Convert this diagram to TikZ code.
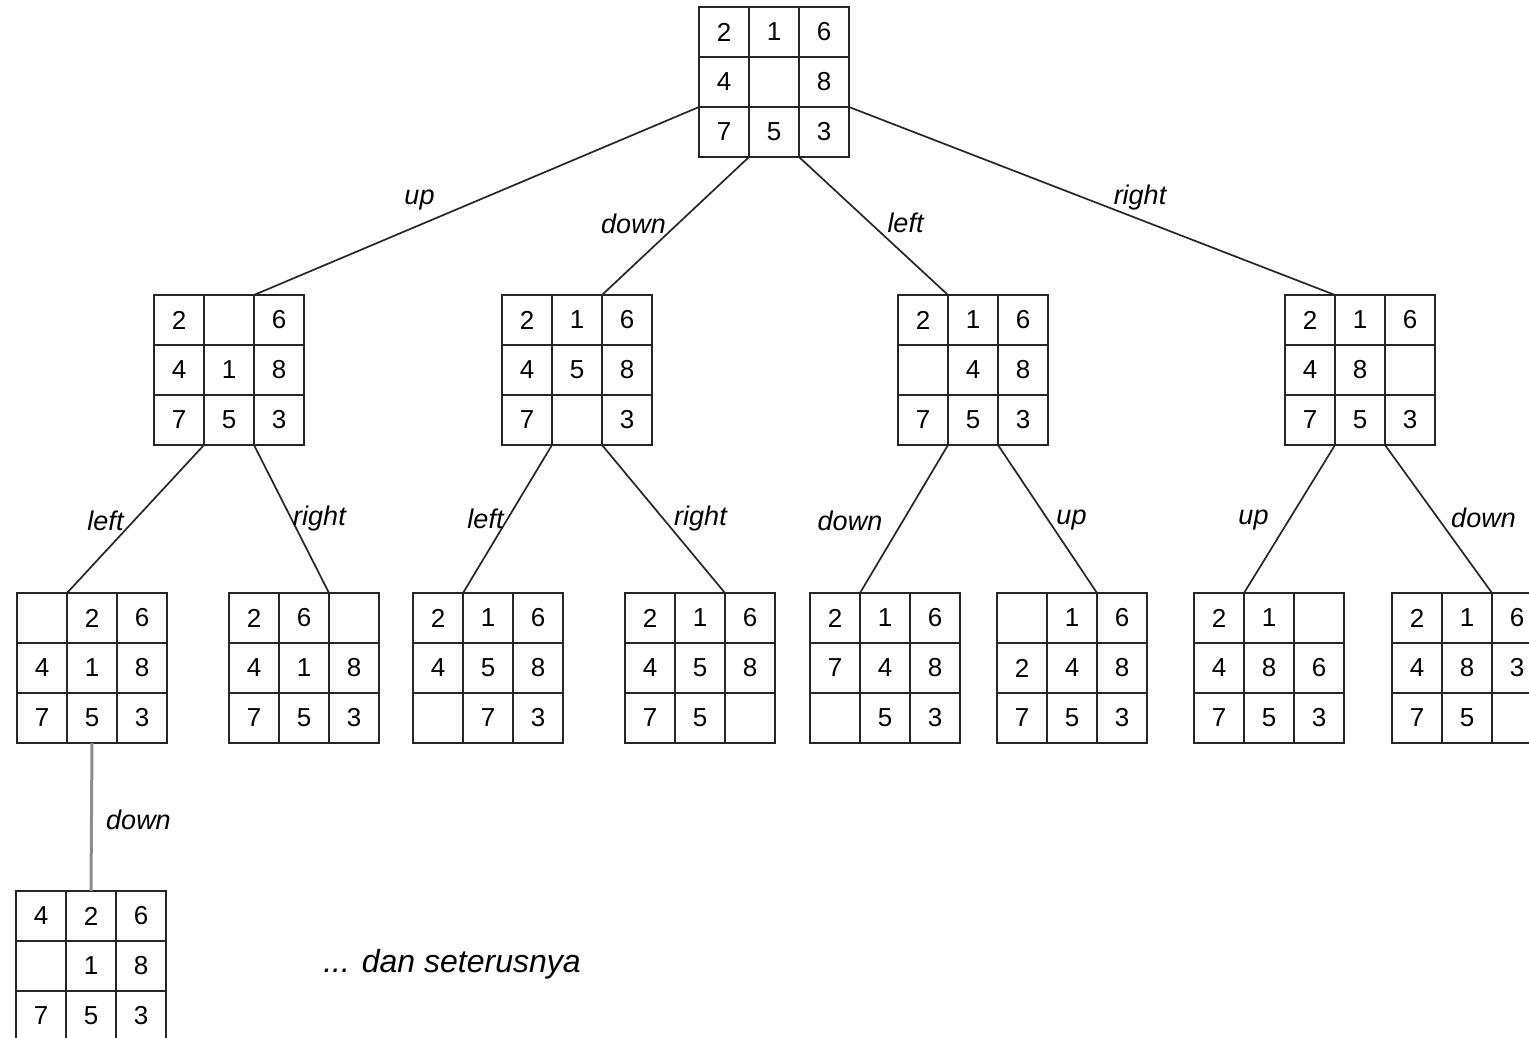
\documentclass[tikz,border=0pt]{standalone}
\usepackage{fontspec}
\setmainfont{Liberation Sans}
\usetikzlibrary{calc}

% one 3x3 board of the puzzle: name, centre, the nine entries row by row
\newcommand{\board}[3]{%
  \foreach \v [count=\bidx from 0] in {#3} {
    \pgfmathtruncatemacro{\brow}{\bidx/3}
    \pgfmathtruncatemacro{\bcol}{\bidx-3*\brow}
    \pgfmathtruncatemacro{\bnum}{\bidx+1}
    \node[cell] (#1-\bnum) at ($(#2)+(\bcol*50-50,\brow*50-50)$) {\v};
  }
}

\begin{document}
\begin{tikzpicture}[x=1pt, y=-1pt]
    % Define styles for boards and edges
    \tikzstyle{cell} = [rectangle, draw=black!85, line width=2.2pt, minimum size=50pt, inner sep=0pt, outer sep=0pt, font=\fontsize{26}{29}\selectfont]
    \tikzstyle{edge} = [draw=black!85, line width=1.7pt]
    \tikzstyle{lastedge} = [draw=black!45, line width=3pt]
    \tikzstyle{lbl} = [font=\fontsize{27}{30}\selectfont\itshape, inner sep=0pt]

    \useasboundingbox (0,0) rectangle (1529,1038);
    \clip (0,0) rectangle (1529,1038);

    % Boards
    \board{root}{774,82}{2,1,6,4,{},8,7,5,3}

    \board{up}{229,370}{2,{},6,4,1,8,7,5,3}
    \board{down}{577,370}{2,1,6,4,5,8,7,{},3}
    \board{left}{973,370}{2,1,6,{},4,8,7,5,3}
    \board{right}{1360,370}{2,1,6,4,8,{},7,5,3}

    \board{ul}{92,668}{{},2,6,4,1,8,7,5,3}
    \board{ur}{304,668}{2,6,{},4,1,8,7,5,3}
    \board{dl}{488,668}{2,1,6,4,5,8,{},7,3}
    \board{dr}{700,668}{2,1,6,4,5,8,7,5,{}}
    \board{ld}{885,668}{2,1,6,7,4,8,{},5,3}
    \board{lu}{1072,668}{{},1,6,2,4,8,7,5,3}
    \board{ru}{1269,668}{2,1,{},4,8,6,7,5,3}
    \board{rd}{1467,668}{2,1,6,4,8,3,7,5,{}}

    \board{uld}{91,966}{4,2,6,{},1,8,7,5,3}

    \node (more) [font=\fontsize{32}{35}\selectfont\itshape] at (452,964) {... dan seterusnya};

    % Edges
    \draw [edge] (root-7.north west) -- (up-3.north west) node[lbl, midway, xshift=-57pt, yshift=1pt] {up};
    \draw [edge] (root-8.south west) -- (down-3.north west) node[lbl, midway, xshift=-42pt, yshift=2pt] {down};
    \draw [edge] (root-8.south east) -- (left-2.north west) node[lbl, midway, xshift=32pt, yshift=3pt] {left};
    \draw [edge] (root-9.north east) -- (right-2.north west) node[lbl, midway, xshift=48pt, yshift=3pt] {right};

    \draw [edge] (up-8.south west) -- (ul-2.north west) node[lbl, midway, xshift=-30pt, yshift=-2pt] {left};
    \draw [edge] (up-9.south west) -- (ur-3.north west) node[lbl, midway, xshift=28pt, yshift=0pt] {right};
    \draw [edge] (down-8.south west) -- (dl-2.north west) node[lbl, midway, xshift=-22pt, yshift=0pt] {left};
    \draw [edge] (down-9.south west) -- (dr-3.north west) node[lbl, midway, xshift=37pt, yshift=0pt] {right};
    \draw [edge] (left-8.south west) -- (ld-2.north west) node[lbl, midway, xshift=-54pt, yshift=-2pt] {down};
    \draw [edge] (left-9.south west) -- (lu-3.north west) node[lbl, midway, xshift=24pt, yshift=-1pt] {up};
    \draw [edge] (right-8.south west) -- (ru-2.north west) node[lbl, midway, xshift=-36pt, yshift=-1pt] {up};
    \draw [edge] (right-9.south west) -- (rd-3.north west) node[lbl, midway, xshift=45pt, yshift=1pt] {down};

    \draw [lastedge] (ul-8.south) -- (uld-2.north) node[lbl, midway, xshift=47pt, yshift=-3pt] {down};

\end{tikzpicture}
\end{document}
